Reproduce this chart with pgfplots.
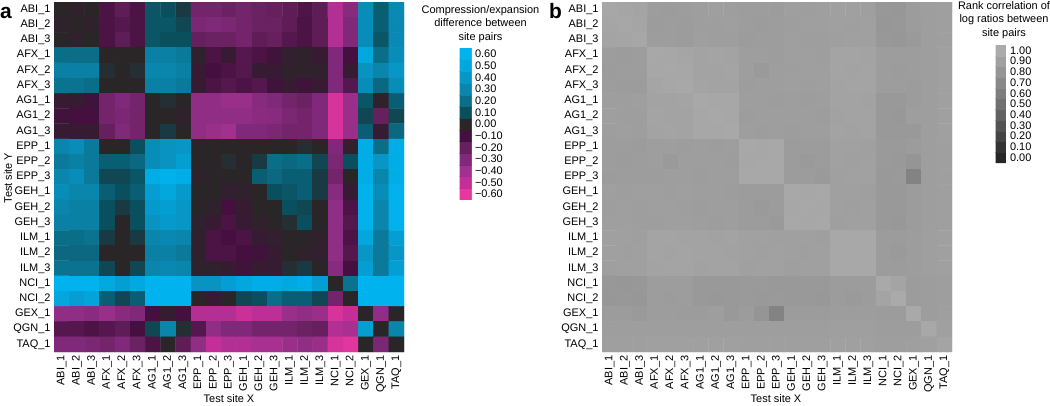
\documentclass[border=0pt]{standalone}
\usepackage{fontspec}
\setmainfont{Liberation Sans}
\usepackage{pgfplots}
\pgfplotsset{compat=1.18}
\begin{document}
\begin{tikzpicture}
\useasboundingbox (0,0) rectangle (1050bp,-406bp);
\pgfplotsset{
  hm/.style={
    scale only axis, width=350bp, height=350bp, anchor=north west,
    enlargelimits=false, xmin=-0.5, xmax=22.5, ymin=-0.5, ymax=22.5,
    y dir=reverse,
    xtick={0,...,22}, ytick={0,...,22},
    xticklabels={ABI\_1,ABI\_2,ABI\_3,AFX\_1,AFX\_2,AFX\_3,AG1\_1,AG1\_2,AG1\_3,EPP\_1,EPP\_2,EPP\_3,GEH\_1,GEH\_2,GEH\_3,ILM\_1,ILM\_2,ILM\_3,NCI\_1,NCI\_2,GEX\_1,QGN\_1,TAQ\_1},
    yticklabels={ABI\_1,ABI\_2,ABI\_3,AFX\_1,AFX\_2,AFX\_3,AG1\_1,AG1\_2,AG1\_3,EPP\_1,EPP\_2,EPP\_3,GEH\_1,GEH\_2,GEH\_3,ILM\_1,ILM\_2,ILM\_3,NCI\_1,NCI\_2,GEX\_1,QGN\_1,TAQ\_1},
    major tick length=0pt,
    axis line style={draw=none},
    tick label style={font=\fontsize{11}{13}\selectfont},
    xticklabel style={rotate=90, anchor=east},
    colorbar sampled,
  },
  cb/.style={
    at={(parent axis.north east)}, anchor=north west,
    scale only axis, y dir=normal,
    major tick length=0pt, axis line style={draw=none},
    yticklabel style={font=\fontsize{11}{13}\selectfont},
    title style={align=center, font=\fontsize{11}{13.5}\selectfont},
  },
}
% ---------- panel a ----------
\begin{axis}[hm, at={(54bp,-2bp)},
  point meta min=-0.65, point meta max=0.65,
  colormap={cmA}{rgb255(0pt)=(232,56,159) rgb255(5pt)=(232,56,159) rgb255(15pt)=(196,46,152)
    rgb255(25pt)=(160,49,142) rgb255(35pt)=(128,41,122) rgb255(45pt)=(102,32,93)
    rgb255(55pt)=(69,16,63) rgb255(65pt)=(42,38,40) rgb255(75pt)=(10,79,94)
    rgb255(85pt)=(11,110,136) rgb255(95pt)=(10,133,172) rgb255(105pt)=(7,150,198)
    rgb255(115pt)=(2,167,222) rgb255(125pt)=(0,179,238) rgb255(130pt)=(0,179,238)},
  colorbar style={cb, xshift=47bp, yshift=-46bp, width=12bp, height=152bp, samples=14,
    ytick={-0.6,-0.5,-0.4,-0.3,-0.2,-0.1,0,0.1,0.2,0.3,0.4,0.5,0.6},
    yticklabels={−0.60,−0.50,−0.40,−0.30,−0.20,−0.10,0.00,0.10,0.20,0.30,0.40,0.50,0.60},
    title={Compression/expansion\\difference between\\site pairs},
    title style={xshift=15bp, yshift=-4bp}},
]
\addplot[matrix plot*, mesh/cols=23, point meta=explicit] coordinates {
(0,0)[0] (1,0)[-0.02] (2,0)[0] (3,0)[-0.12] (4,0)[-0.18] (5,0)[-0.12] (6,0)[0.12] (7,0)[0.10] (8,0)[0.05] (9,0)[-0.25] (10,0)[-0.25] (11,0)[-0.22] (12,0)[-0.25] (13,0)[-0.22] (14,0)[-0.20] (15,0)[-0.18] (16,0)[-0.13] (17,0)[-0.18] (18,0)[-0.45] (19,0)[-0.32] (20,0)[0.35] (21,0)[0.15] (22,0)[0.33]
(0,1)[-0.02] (1,1)[0] (2,1)[-0.02] (3,1)[-0.12] (4,1)[-0.15] (5,1)[-0.12] (6,1)[0.12] (7,1)[0.12] (8,1)[0.08] (9,1)[-0.28] (10,1)[-0.30] (11,1)[-0.28] (12,1)[-0.25] (13,1)[-0.22] (14,1)[-0.22] (15,1)[-0.18] (16,1)[-0.12] (17,1)[-0.18] (18,1)[-0.45] (19,1)[-0.30] (20,1)[0.35] (21,1)[0.15] (22,1)[0.32]
(0,2)[0] (1,2)[-0.02] (2,2)[0] (3,2)[-0.12] (4,2)[-0.18] (5,2)[-0.12] (6,2)[0.12] (7,2)[0.10] (8,2)[0.10] (9,2)[-0.20] (10,2)[-0.22] (11,2)[-0.22] (12,2)[-0.25] (13,2)[-0.18] (14,2)[-0.20] (15,2)[-0.15] (16,2)[-0.12] (17,2)[-0.18] (18,2)[-0.45] (19,2)[-0.30] (20,2)[0.35] (21,2)[0.12] (22,2)[0.33]
(0,3)[0.20] (1,3)[0.20] (2,3)[0.20] (3,3)[0] (4,3)[0] (5,3)[0] (6,3)[0.28] (7,3)[0.28] (8,3)[0.25] (9,3)[-0.02] (10,3)[-0.12] (11,3)[-0.05] (12,3)[-0.15] (13,3)[-0.12] (14,3)[-0.08] (15,3)[-0.03] (16,3)[-0.02] (17,3)[-0.05] (18,3)[-0.30] (19,3)[-0.10] (20,3)[0.50] (21,3)[0.20] (22,3)[0.35]
(0,4)[0.28] (1,4)[0.28] (2,4)[0.28] (3,4)[0.02] (4,4)[0] (5,4)[0.02] (6,4)[0.30] (7,4)[0.30] (8,4)[0.28] (9,4)[-0.05] (10,4)[-0.10] (11,4)[-0.12] (12,4)[-0.15] (13,4)[-0.05] (14,4)[-0.05] (15,4)[-0.02] (16,4)[-0.02] (17,4)[-0.02] (18,4)[-0.30] (19,4)[-0.05] (20,4)[0.38] (21,4)[0.30] (22,4)[0.40]
(0,5)[0.22] (1,5)[0.22] (2,5)[0.20] (3,5)[0] (4,5)[0] (5,5)[0] (6,5)[0.28] (7,5)[0.28] (8,5)[0.25] (9,5)[-0.05] (10,5)[-0.12] (11,5)[-0.15] (12,5)[-0.12] (13,5)[-0.15] (14,5)[-0.08] (15,5)[-0.05] (16,5)[-0.08] (17,5)[-0.05] (18,5)[-0.30] (19,5)[-0.15] (20,5)[0.35] (21,5)[0.18] (22,5)[0.35]
(0,6)[-0.05] (1,6)[-0.05] (2,6)[-0.08] (3,6)[-0.25] (4,6)[-0.30] (5,6)[-0.25] (6,6)[0] (7,6)[0.02] (8,6)[0] (9,6)[-0.35] (10,6)[-0.35] (11,6)[-0.38] (12,6)[-0.38] (13,6)[-0.32] (14,6)[-0.30] (15,6)[-0.25] (16,6)[-0.22] (17,6)[-0.30] (18,6)[-0.55] (19,6)[-0.38] (20,6)[0.12] (21,6)[-0.02] (22,6)[0.15]
(0,7)[-0.08] (1,7)[-0.10] (2,7)[-0.10] (3,7)[-0.25] (4,7)[-0.28] (5,7)[-0.25] (6,7)[0] (7,7)[0] (8,7)[-0.02] (9,7)[-0.35] (10,7)[-0.35] (11,7)[-0.35] (12,7)[-0.35] (13,7)[-0.33] (14,7)[-0.32] (15,7)[-0.28] (16,7)[-0.25] (17,7)[-0.30] (18,7)[-0.55] (19,7)[-0.38] (20,7)[0.08] (21,7)[-0.20] (22,7)[0.08]
(0,8)[-0.05] (1,8)[-0.05] (2,8)[-0.05] (3,8)[-0.20] (4,8)[-0.30] (5,8)[-0.25] (6,8)[0] (7,8)[0.05] (8,8)[0] (9,8)[-0.35] (10,8)[-0.38] (11,8)[-0.40] (12,8)[-0.30] (13,8)[-0.30] (14,8)[-0.28] (15,8)[-0.25] (16,8)[-0.25] (17,8)[-0.30] (18,8)[-0.55] (19,8)[-0.38] (20,8)[0.15] (21,8)[-0.05] (22,8)[0.18]
(0,9)[0.30] (1,9)[0.35] (2,9)[0.25] (3,9)[0] (4,9)[0] (5,9)[0.10] (6,9)[0.35] (7,9)[0.38] (8,9)[0.40] (9,9)[0] (10,9)[0] (11,9)[0] (12,9)[0] (13,9)[0] (14,9)[0] (15,9)[0] (16,9)[0.02] (17,9)[0] (18,9)[-0.30] (19,9)[-0.02] (20,9)[0.55] (21,9)[0.20] (22,9)[0.55]
(0,10)[0.25] (1,10)[0.28] (2,10)[0.25] (3,10)[0.15] (4,10)[0.15] (5,10)[0.18] (6,10)[0.35] (7,10)[0.38] (8,10)[0.45] (9,10)[0] (10,10)[0] (11,10)[0.02] (12,10)[0] (13,10)[0.05] (14,10)[0.20] (15,10)[0.18] (16,10)[0.20] (17,10)[0.08] (18,10)[-0.28] (19,10)[0.10] (20,10)[0.55] (21,10)[0.40] (22,10)[0.55]
(0,11)[0.30] (1,11)[0.35] (2,11)[0.25] (3,11)[0.08] (4,11)[0.08] (5,11)[0.12] (6,11)[0.55] (7,11)[0.58] (8,11)[0.55] (9,11)[-0.02] (10,11)[0] (11,11)[0] (12,11)[0] (13,11)[0.15] (14,11)[0.18] (15,11)[0.15] (16,11)[0.15] (17,11)[0.05] (18,11)[-0.25] (19,11)[0] (20,11)[0.55] (21,11)[0.30] (22,11)[0.55]
(0,12)[0.35] (1,12)[0.30] (2,12)[0.30] (3,12)[0.15] (4,12)[0.10] (5,12)[0.15] (6,12)[0.45] (7,12)[0.50] (8,12)[0.42] (9,12)[0] (10,12)[0] (11,12)[-0.03] (12,12)[-0.02] (13,12)[0] (14,12)[0.10] (15,12)[0.12] (16,12)[0.15] (17,12)[0.05] (18,12)[-0.32] (19,12)[-0.05] (20,12)[0.58] (21,12)[0.35] (22,12)[0.58]
(0,13)[0.30] (1,13)[0.28] (2,13)[0.28] (3,13)[0.10] (4,13)[0.05] (5,13)[0.10] (6,13)[0.42] (7,13)[0.45] (8,13)[0.40] (9,13)[0] (10,13)[-0.02] (11,13)[-0.10] (12,13)[-0.05] (13,13)[0] (14,13)[0] (15,13)[0.10] (16,13)[0.08] (17,13)[0] (18,13)[-0.35] (19,13)[-0.12] (20,13)[0.58] (21,13)[0.30] (22,13)[0.58]
(0,14)[0.28] (1,14)[0.28] (2,14)[0.28] (3,14)[0.10] (4,14)[0] (5,14)[0.10] (6,14)[0.38] (7,14)[0.42] (8,14)[0.40] (9,14)[-0.02] (10,14)[-0.05] (11,14)[-0.12] (12,14)[-0.05] (13,14)[-0.02] (14,14)[0] (15,14)[0.02] (16,14)[0.10] (17,14)[0] (18,14)[-0.35] (19,14)[-0.15] (20,14)[0.58] (21,14)[0.30] (22,14)[0.58]
(0,15)[0.20] (1,15)[0.20] (2,15)[0.22] (3,15)[0.05] (4,15)[0] (5,15)[0.05] (6,15)[0.30] (7,15)[0.32] (8,15)[0.30] (9,15)[-0.02] (10,15)[-0.12] (11,15)[-0.10] (12,15)[-0.12] (13,15)[-0.05] (14,15)[-0.03] (15,15)[0] (16,15)[0] (17,15)[-0.02] (18,15)[-0.35] (19,15)[-0.12] (20,15)[0.50] (21,15)[0.25] (22,15)[0.45]
(0,16)[0.18] (1,16)[0.18] (2,16)[0.18] (3,16)[0] (4,16)[0] (5,16)[0] (6,16)[0.28] (7,16)[0.28] (8,16)[0.25] (9,16)[-0.02] (10,16)[-0.12] (11,16)[-0.12] (12,16)[-0.10] (13,16)[-0.08] (14,16)[-0.05] (15,16)[0] (16,16)[-0.02] (17,16)[-0.03] (18,16)[-0.35] (19,16)[-0.15] (20,16)[0.40] (21,16)[0.25] (22,16)[0.40]
(0,17)[0.22] (1,17)[0.22] (2,17)[0.22] (3,17)[0.08] (4,17)[0] (5,17)[0.08] (6,17)[0.30] (7,17)[0.32] (8,17)[0.30] (9,17)[-0.02] (10,17)[-0.02] (11,17)[-0.05] (12,17)[-0.08] (13,17)[-0.05] (14,17)[-0.05] (15,17)[0.02] (16,17)[0.05] (17,17)[0] (18,17)[-0.32] (19,17)[-0.10] (20,17)[0.45] (21,17)[0.25] (22,17)[0.45]
(0,18)[0.60] (1,18)[0.60] (2,18)[0.60] (3,18)[0.52] (4,18)[0.45] (5,18)[0.52] (6,18)[0.60] (7,18)[0.60] (8,18)[0.60] (9,18)[0.38] (10,18)[0.38] (11,18)[0.45] (12,18)[0.50] (13,18)[0.55] (14,18)[0.55] (15,18)[0.52] (16,18)[0.55] (17,18)[0.45] (18,18)[0] (19,18)[0.22] (20,18)[0.60] (21,18)[0.60] (22,18)[0.60]
(0,19)[0.50] (1,19)[0.45] (2,19)[0.48] (3,19)[0.15] (4,19)[0.08] (5,19)[0.15] (6,19)[0.60] (7,19)[0.60] (8,19)[0.60] (9,19)[0] (10,19)[-0.05] (11,19)[0] (12,19)[0.08] (13,19)[0.10] (14,19)[0.20] (15,19)[0.15] (16,19)[0.15] (17,19)[0.08] (18,19)[-0.25] (19,19)[0] (20,19)[0.60] (21,19)[0.60] (22,19)[0.60]
(0,20)[-0.35] (1,20)[-0.35] (2,20)[-0.33] (3,20)[-0.38] (4,20)[-0.32] (5,20)[-0.30] (6,20)[-0.10] (7,20)[-0.05] (8,20)[-0.10] (9,20)[-0.45] (10,20)[-0.45] (11,20)[-0.45] (12,20)[-0.52] (13,20)[-0.48] (14,20)[-0.48] (15,20)[-0.38] (16,20)[-0.35] (17,20)[-0.38] (18,20)[-0.55] (19,20)[-0.50] (20,20)[0] (21,20)[-0.35] (22,20)[0]
(0,21)[-0.15] (1,21)[-0.15] (2,21)[-0.12] (3,21)[-0.15] (4,21)[-0.18] (5,21)[-0.10] (6,21)[0.08] (7,21)[0.30] (8,21)[0.02] (9,21)[-0.15] (10,21)[-0.35] (11,21)[-0.30] (12,21)[-0.30] (13,21)[-0.25] (14,21)[-0.25] (15,21)[-0.25] (16,21)[-0.22] (17,21)[-0.20] (18,21)[-0.45] (19,21)[-0.42] (20,21)[0.45] (21,21)[0] (22,21)[0.30]
(0,22)[-0.30] (1,22)[-0.30] (2,22)[-0.28] (3,22)[-0.25] (4,22)[-0.30] (5,22)[-0.22] (6,22)[-0.12] (7,22)[0] (8,22)[-0.18] (9,22)[-0.35] (10,22)[-0.50] (11,22)[-0.45] (12,22)[-0.45] (13,22)[-0.42] (14,22)[-0.42] (15,22)[-0.38] (16,22)[-0.35] (17,22)[-0.38] (18,22)[-0.55] (19,22)[-0.58] (20,22)[0] (21,22)[-0.28] (22,22)[0]
};
\end{axis}
% ---------- panel b ----------
\begin{axis}[hm, at={(602bp,-2bp)},
  point meta min=-0.05, point meta max=1.05,
  colormap={cmB}{rgb255(0pt)=(38,38,38) rgb255(5pt)=(38,38,38) rgb255(15pt)=(52,52,52)
    rgb255(25pt)=(68,68,68) rgb255(35pt)=(83,83,83) rgb255(45pt)=(98,98,98)
    rgb255(55pt)=(112,112,112) rgb255(65pt)=(125,125,125) rgb255(75pt)=(137,137,137)
    rgb255(85pt)=(149,149,149) rgb255(95pt)=(160,160,160) rgb255(105pt)=(171,171,171)
    rgb255(110pt)=(171,171,171)},
  colorbar style={cb, xshift=35bp, yshift=-43bp, width=11bp, height=118bp, samples=12,
    ytick={0,0.1,0.2,0.3,0.4,0.5,0.6,0.7,0.8,0.9,1},
    yticklabels={0.00,0.10,0.20,0.30,0.40,0.50,0.60,0.70,0.80,0.90,1.00},
    title={Rank correlation of\\log ratios between\\site pairs},
    title style={xshift=3bp, yshift=-3bp}},
]
\addplot[matrix plot*, mesh/cols=23, point meta=explicit] coordinates {
(0,0)[0.96] (1,0)[0.95] (2,0)[0.94] (3,0)[0.87] (4,0)[0.86] (5,0)[0.87] (6,0)[0.88] (7,0)[0.89] (8,0)[0.88] (9,0)[0.87] (10,0)[0.87] (11,0)[0.86] (12,0)[0.89] (13,0)[0.88] (14,0)[0.89] (15,0)[0.90] (16,0)[0.90] (17,0)[0.89] (18,0)[0.83] (19,0)[0.82] (20,0)[0.86] (21,0)[0.88] (22,0)[0.89]
(0,1)[0.95] (1,1)[0.96] (2,1)[0.95] (3,1)[0.86] (4,1)[0.87] (5,1)[0.86] (6,1)[0.88] (7,1)[0.88] (8,1)[0.89] (9,1)[0.87] (10,1)[0.86] (11,1)[0.87] (12,1)[0.88] (13,1)[0.89] (14,1)[0.89] (15,1)[0.90] (16,1)[0.89] (17,1)[0.90] (18,1)[0.82] (19,1)[0.83] (20,1)[0.86] (21,1)[0.88] (22,1)[0.89]
(0,2)[0.94] (1,2)[0.95] (2,2)[0.96] (3,2)[0.87] (4,2)[0.87] (5,2)[0.86] (6,2)[0.89] (7,2)[0.88] (8,2)[0.88] (9,2)[0.86] (10,2)[0.87] (11,2)[0.87] (12,2)[0.89] (13,2)[0.88] (14,2)[0.88] (15,2)[0.89] (16,2)[0.90] (17,2)[0.90] (18,2)[0.83] (19,2)[0.82] (20,2)[0.85] (21,2)[0.88] (22,2)[0.89]
(0,3)[0.87] (1,3)[0.86] (2,3)[0.87] (3,3)[0.97] (4,3)[0.96] (5,3)[0.95] (6,3)[0.93] (7,3)[0.94] (8,3)[0.93] (9,3)[0.88] (10,3)[0.88] (11,3)[0.87] (12,3)[0.89] (13,3)[0.89] (14,3)[0.88] (15,3)[0.94] (16,3)[0.94] (17,3)[0.93] (18,3)[0.87] (19,3)[0.87] (20,3)[0.87] (21,3)[0.88] (22,3)[0.90]
(0,4)[0.86] (1,4)[0.87] (2,4)[0.87] (3,4)[0.96] (4,4)[0.97] (5,4)[0.96] (6,4)[0.93] (7,4)[0.93] (8,4)[0.94] (9,4)[0.88] (10,4)[0.85] (11,4)[0.88] (12,4)[0.88] (13,4)[0.89] (14,4)[0.89] (15,4)[0.94] (16,4)[0.93] (17,4)[0.94] (18,4)[0.87] (19,4)[0.86] (20,4)[0.87] (21,4)[0.88] (22,4)[0.90]
(0,5)[0.87] (1,5)[0.86] (2,5)[0.86] (3,5)[0.95] (4,5)[0.96] (5,5)[0.97] (6,5)[0.94] (7,5)[0.93] (8,5)[0.93] (9,5)[0.87] (10,5)[0.88] (11,5)[0.88] (12,5)[0.89] (13,5)[0.88] (14,5)[0.89] (15,5)[0.93] (16,5)[0.94] (17,5)[0.94] (18,5)[0.87] (19,5)[0.87] (20,5)[0.86] (21,5)[0.88] (22,5)[0.90]
(0,6)[0.88] (1,6)[0.88] (2,6)[0.89] (3,6)[0.93] (4,6)[0.93] (5,6)[0.94] (6,6)[0.97] (7,6)[0.96] (8,6)[0.96] (9,6)[0.88] (10,6)[0.88] (11,6)[0.87] (12,6)[0.88] (13,6)[0.87] (14,6)[0.88] (15,6)[0.93] (16,6)[0.93] (17,6)[0.92] (18,6)[0.84] (19,6)[0.84] (20,6)[0.86] (21,6)[0.88] (22,6)[0.90]
(0,7)[0.89] (1,7)[0.88] (2,7)[0.88] (3,7)[0.94] (4,7)[0.93] (5,7)[0.93] (6,7)[0.96] (7,7)[0.97] (8,7)[0.96] (9,7)[0.87] (10,7)[0.88] (11,7)[0.88] (12,7)[0.88] (13,7)[0.88] (14,7)[0.87] (15,7)[0.92] (16,7)[0.93] (17,7)[0.93] (18,7)[0.84] (19,7)[0.83] (20,7)[0.88] (21,7)[0.88] (22,7)[0.90]
(0,8)[0.88] (1,8)[0.89] (2,8)[0.88] (3,8)[0.93] (4,8)[0.94] (5,8)[0.93] (6,8)[0.96] (7,8)[0.96] (8,8)[0.97] (9,8)[0.88] (10,8)[0.87] (11,8)[0.88] (12,8)[0.87] (13,8)[0.88] (14,8)[0.88] (15,8)[0.93] (16,8)[0.92] (17,8)[0.93] (18,8)[0.84] (19,8)[0.84] (20,8)[0.84] (21,8)[0.88] (22,8)[0.90]
(0,9)[0.87] (1,9)[0.87] (2,9)[0.86] (3,9)[0.88] (4,9)[0.88] (5,9)[0.87] (6,9)[0.88] (7,9)[0.87] (8,9)[0.88] (9,9)[0.97] (10,9)[0.96] (11,9)[0.97] (12,9)[0.86] (13,9)[0.86] (14,9)[0.86] (15,9)[0.91] (16,9)[0.91] (17,9)[0.90] (18,9)[0.85] (19,9)[0.85] (20,9)[0.86] (21,9)[0.88] (22,9)[0.89]
(0,10)[0.87] (1,10)[0.86] (2,10)[0.87] (3,10)[0.88] (4,10)[0.85] (5,10)[0.88] (6,10)[0.88] (7,10)[0.88] (8,10)[0.87] (9,10)[0.96] (10,10)[0.97] (11,10)[0.97] (12,10)[0.86] (13,10)[0.85] (14,10)[0.86] (15,10)[0.91] (16,10)[0.90] (17,10)[0.91] (18,10)[0.85] (19,10)[0.84] (20,10)[0.80] (21,10)[0.88] (22,10)[0.89]
(0,11)[0.86] (1,11)[0.87] (2,11)[0.87] (3,11)[0.87] (4,11)[0.88] (5,11)[0.88] (6,11)[0.87] (7,11)[0.88] (8,11)[0.88] (9,11)[0.97] (10,11)[0.97] (11,11)[0.97] (12,11)[0.86] (13,11)[0.86] (14,11)[0.85] (15,11)[0.90] (16,11)[0.91] (17,11)[0.91] (18,11)[0.84] (19,11)[0.85] (20,11)[0.65] (21,11)[0.88] (22,11)[0.89]
(0,12)[0.89] (1,12)[0.88] (2,12)[0.89] (3,12)[0.89] (4,12)[0.88] (5,12)[0.89] (6,12)[0.88] (7,12)[0.88] (8,12)[0.87] (9,12)[0.86] (10,12)[0.86] (11,12)[0.86] (12,12)[0.97] (13,12)[0.96] (14,12)[0.97] (15,12)[0.90] (16,12)[0.90] (17,12)[0.89] (18,12)[0.84] (19,12)[0.84] (20,12)[0.86] (21,12)[0.88] (22,12)[0.89]
(0,13)[0.88] (1,13)[0.89] (2,13)[0.88] (3,13)[0.89] (4,13)[0.89] (5,13)[0.88] (6,13)[0.87] (7,13)[0.88] (8,13)[0.88] (9,13)[0.86] (10,13)[0.85] (11,13)[0.86] (12,13)[0.96] (13,13)[0.97] (14,13)[0.96] (15,13)[0.90] (16,13)[0.89] (17,13)[0.90] (18,13)[0.84] (19,13)[0.84] (20,13)[0.86] (21,13)[0.88] (22,13)[0.89]
(0,14)[0.89] (1,14)[0.89] (2,14)[0.88] (3,14)[0.88] (4,14)[0.89] (5,14)[0.89] (6,14)[0.88] (7,14)[0.87] (8,14)[0.88] (9,14)[0.86] (10,14)[0.86] (11,14)[0.85] (12,14)[0.97] (13,14)[0.96] (14,14)[0.97] (15,14)[0.89] (16,14)[0.90] (17,14)[0.90] (18,14)[0.84] (19,14)[0.83] (20,14)[0.86] (21,14)[0.88] (22,14)[0.89]
(0,15)[0.90] (1,15)[0.90] (2,15)[0.89] (3,15)[0.94] (4,15)[0.94] (5,15)[0.93] (6,15)[0.93] (7,15)[0.92] (8,15)[0.93] (9,15)[0.91] (10,15)[0.91] (11,15)[0.90] (12,15)[0.90] (13,15)[0.90] (14,15)[0.89] (15,15)[0.97] (16,15)[0.97] (17,15)[0.97] (18,15)[0.86] (19,15)[0.86] (20,15)[0.87] (21,15)[0.89] (22,15)[0.90]
(0,16)[0.90] (1,16)[0.89] (2,16)[0.90] (3,16)[0.94] (4,16)[0.93] (5,16)[0.94] (6,16)[0.93] (7,16)[0.93] (8,16)[0.92] (9,16)[0.91] (10,16)[0.90] (11,16)[0.91] (12,16)[0.90] (13,16)[0.89] (14,16)[0.90] (15,16)[0.97] (16,16)[0.97] (17,16)[0.97] (18,16)[0.86] (19,16)[0.85] (20,16)[0.87] (21,16)[0.89] (22,16)[0.90]
(0,17)[0.89] (1,17)[0.90] (2,17)[0.90] (3,17)[0.93] (4,17)[0.94] (5,17)[0.94] (6,17)[0.92] (7,17)[0.93] (8,17)[0.93] (9,17)[0.90] (10,17)[0.91] (11,17)[0.91] (12,17)[0.89] (13,17)[0.90] (14,17)[0.90] (15,17)[0.97] (16,17)[0.97] (17,17)[0.97] (18,17)[0.86] (19,17)[0.86] (20,17)[0.87] (21,17)[0.89] (22,17)[0.90]
(0,18)[0.83] (1,18)[0.82] (2,18)[0.83] (3,18)[0.87] (4,18)[0.87] (5,18)[0.87] (6,18)[0.84] (7,18)[0.84] (8,18)[0.84] (9,18)[0.85] (10,18)[0.85] (11,18)[0.84] (12,18)[0.84] (13,18)[0.84] (14,18)[0.84] (15,18)[0.86] (16,18)[0.86] (17,18)[0.86] (18,18)[0.98] (19,18)[0.94] (20,18)[0.86] (21,18)[0.87] (22,18)[0.88]
(0,19)[0.82] (1,19)[0.83] (2,19)[0.82] (3,19)[0.87] (4,19)[0.86] (5,19)[0.87] (6,19)[0.84] (7,19)[0.83] (8,19)[0.84] (9,19)[0.85] (10,19)[0.84] (11,19)[0.85] (12,19)[0.84] (13,19)[0.84] (14,19)[0.83] (15,19)[0.86] (16,19)[0.85] (17,19)[0.86] (18,19)[0.94] (19,19)[0.99] (20,19)[0.86] (21,19)[0.87] (22,19)[0.88]
(0,20)[0.86] (1,20)[0.86] (2,20)[0.85] (3,20)[0.87] (4,20)[0.87] (5,20)[0.86] (6,20)[0.86] (7,20)[0.88] (8,20)[0.84] (9,20)[0.86] (10,20)[0.80] (11,20)[0.65] (12,20)[0.86] (13,20)[0.86] (14,20)[0.86] (15,20)[0.87] (16,20)[0.87] (17,20)[0.87] (18,20)[0.86] (19,20)[0.86] (20,20)[0.98] (21,20)[0.87] (22,20)[0.89]
(0,21)[0.88] (1,21)[0.88] (2,21)[0.88] (3,21)[0.88] (4,21)[0.88] (5,21)[0.88] (6,21)[0.88] (7,21)[0.88] (8,21)[0.88] (9,21)[0.88] (10,21)[0.88] (11,21)[0.88] (12,21)[0.88] (13,21)[0.88] (14,21)[0.88] (15,21)[0.89] (16,21)[0.89] (17,21)[0.89] (18,21)[0.87] (19,21)[0.87] (20,21)[0.87] (21,21)[0.97] (22,21)[0.90]
(0,22)[0.89] (1,22)[0.89] (2,22)[0.89] (3,22)[0.90] (4,22)[0.90] (5,22)[0.90] (6,22)[0.90] (7,22)[0.90] (8,22)[0.90] (9,22)[0.89] (10,22)[0.89] (11,22)[0.89] (12,22)[0.89] (13,22)[0.89] (14,22)[0.89] (15,22)[0.90] (16,22)[0.90] (17,22)[0.90] (18,22)[0.88] (19,22)[0.88] (20,22)[0.89] (21,22)[0.90] (22,22)[0.94]
};
\end{axis}
% labels and panel letters
\node[font=\fontsize{11}{13}\selectfont] at (229bp,-399bp) {Test site X};
\node[font=\fontsize{11}{13}\selectfont] at (776bp,-399bp) {Test site X};
\node[font=\fontsize{11}{13}\selectfont, rotate=90] at (8bp,-178bp) {Test site Y};
\node[font=\bfseries\fontsize{21}{21}\selectfont, anchor=base west, inner sep=0pt] at (0bp,-18bp) {a};
\node[font=\bfseries\fontsize{21}{21}\selectfont, anchor=base west, inner sep=0pt] at (549bp,-18bp) {b};
\end{tikzpicture}
\end{document}
